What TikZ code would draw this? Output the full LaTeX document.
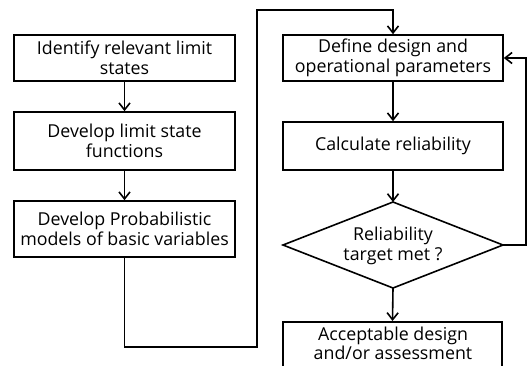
\documentclass[tikz,border=0pt]{standalone}
\usepackage{fontspec}
\setmainfont{Open Sans}
\usetikzlibrary{arrows.meta}
\begin{document}
\begin{tikzpicture}[x=1pt,y=-1pt,
  txt/.style={align=center,font=\fontsize{17.8}{19.5}\selectfont},
  box/.style={draw,line width=1.6pt,rectangle,inner sep=0pt,txt},
  conn/.style={line width=1.6pt},
  arr/.style={line width=1.6pt,-{Straight Barb[length=7pt,width=11pt]}}]
\useasboundingbox (0,0) rectangle (527,365);
\clip (0,0) rectangle (527,365);
\node[box,minimum width=221pt,minimum height=46pt] (b1) at (124.5,58) {Identify relevant limit\\states};
\node[box,minimum width=221pt,minimum height=58pt] (b2) at (124.5,141) {Develop limit state\\functions};
\node[box,minimum width=221pt,minimum height=56pt] (b3) at (124.5,229) {Develop Probabilistic\\models of basic variables};
\node[box,minimum width=220pt,minimum height=46pt] (r1) at (393,58) {Define design and\\operational parameters};
\node[box,minimum width=220pt,minimum height=48pt] (r2) at (393,146) {Calculate reliability};
\coordinate (dt) at (393,202);
\coordinate (db) at (393,288);
\coordinate (dl) at (283,245);
\coordinate (dr) at (503,245);
\draw[conn,line join=miter] (dt) -- (dr) -- (db) -- (dl) -- cycle;
\node[txt] (dtext) at (393,246) {Reliability\\target met ?};
\node[box,minimum width=219pt,minimum height=60pt,anchor=north] (r4) at (392.5,321) {};
\node[txt,anchor=north] (r4t) at (393,323) {Acceptable design\\and/or assessment};
\coordinate (c1) at (124.5,347);
\coordinate (c2) at (257,347);
\coordinate (c3) at (257,10);
\coordinate (c4) at (393,10);
\coordinate (f1) at (526,245);
\coordinate (f2) at (526,58);
\draw[arr] (b1) -- (b2);
\draw[arr] (b2) -- (b3);
\draw[arr] (b3.south) -- (c1) -- (c2) -- (c3) -- (c4) -- (r1.north);
\draw[arr] (r1) -- (r2);
\draw[arr] (r2.south) -- (dt);
\draw[arr] (db) -- (r4.north);
\draw[arr] (dr) -- (f1) -- (f2) -- (r1.east);
\end{tikzpicture}
\end{document}
